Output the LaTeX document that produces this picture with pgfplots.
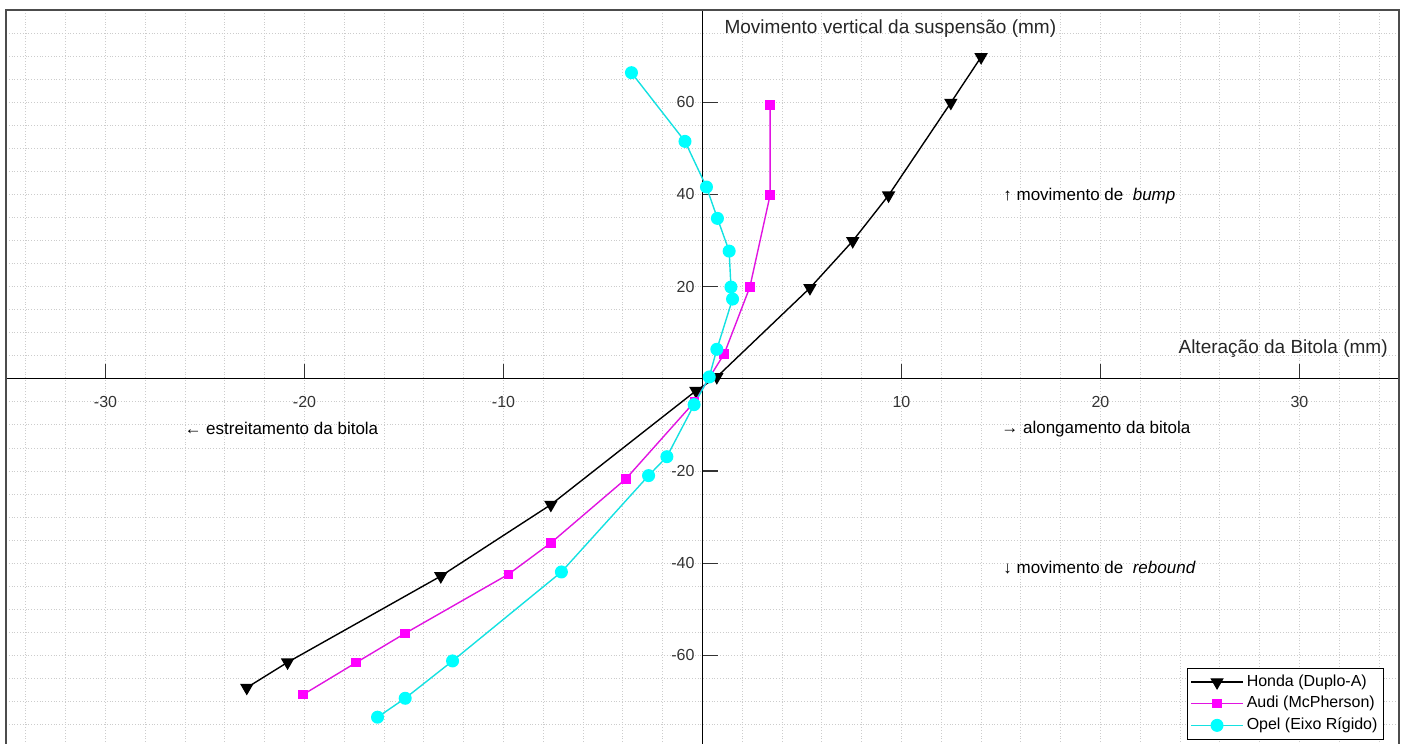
\documentclass[border=0pt]{standalone}
\usepackage{fontspec}
\setmainfont{Liberation Sans}
\usepackage{pgfplots}
\pgfplotsset{compat=1.18}

\definecolor{plotcyan}{RGB}{0,255,255}
\definecolor{plotmagenta}{RGB}{255,0,255}
\definecolor{linecyan}{RGB}{20,225,225}
\definecolor{linemagenta}{RGB}{225,20,225}

\pgfplotstableread{
x y
-22.90 -67.0
-20.85 -61.5
-13.15 -42.8
-7.62 -27.3
-0.33 -2.6
0.72 0.4
5.40 19.7
7.55 29.9
9.35 39.8
12.48 59.9
14.00 69.8
}\honda

\pgfplotstableread{
x y
-20.07 -68.5
-17.42 -61.6
-14.94 -55.2
-9.75 -42.4
-7.62 -35.6
-3.85 -21.7
-0.40 -5.0
0.35 0.3
1.09 5.4
2.38 19.9
3.40 39.9
3.40 59.4
}\audi

\pgfplotstableread{
x y
-16.33 -73.4
-14.94 -69.3
-12.56 -61.2
-7.09 -41.9
-2.71 -21.0
-1.79 -16.9
-0.42 -5.6
0.34 0.4
0.72 6.4
1.51 17.3
1.43 19.9
1.34 27.7
0.75 34.8
0.20 41.6
-0.88 51.5
-3.57 66.4
}\opel

\newcommand{\smalltxt}{\fontsize{8}{9.6}\selectfont}
\newcommand{\notetxt}{\fontsize{8.5}{10.2}\selectfont}
\newcommand{\lbl}{\fontsize{9.5}{11.4}\selectfont}

\begin{document}
\begin{tikzpicture}
\useasboundingbox (0,0) rectangle (702.5pt,-372pt);
\clip (0,0) rectangle (702.5pt,-372pt);
\begin{axis}[
  scale only axis,
  width=696.5pt, height=368.8pt,
  at={(3pt,-5pt)}, anchor=north west,
  xmin=-35, xmax=35, ymin=-80, ymax=80,
  axis lines=middle,
  axis line style={-, black, line width=0.6pt},
  clip=false,
  xtick={-30,-20,-10,10,20,30},
  ytick={-60,-40,-20,20,40,60},
  minor xtick={-34,-32,...,34},
  minor ytick={-75,-70,...,75},
  grid=both,
  major grid style={densely dotted, gray!40, line width=0.45pt},
  minor grid style={densely dotted, gray!40, line width=0.45pt},
  tick align=inside,
  major tick length=7.5pt,
  minor tick length=0pt,
  tick style={black!80, line width=0.6pt},
  /pgf/number format/assume math mode=true,
  tick label style={font=\smalltxt, text=black!80},
  xticklabel style={yshift=-5pt},
  yticklabel style={xshift=-0.5pt},
  legend style={
    at={(axis cs:34.25,-78.3)}, anchor=south east,
    draw=black, fill=white, line width=0.6pt,
    font=\smalltxt, inner sep=1.5pt, row sep=0pt,
    nodes={inner sep=1.5pt, text height=6pt, text depth=1.8pt},
  },
  legend cell align=left,
  legend image code/.code={
    \draw[mark repeat=2, mark phase=2] plot coordinates {(0pt,0pt) (13pt,0pt) (26pt,0pt)};
  },
]
% frame around the plotting area
\draw[black!70, line width=0.6pt] (rel axis cs:0,0) rectangle (rel axis cs:1,1);

\addplot[black, line width=0.7pt, mark=triangle*, mark size=3.2pt,
  mark options={rotate=180, fill=black}] table[x=x, y=y] {\honda};
\addlegendentry{Honda (Duplo-A)}
\addplot[linemagenta, line width=0.7pt, mark=square*, mark size=2pt,
  mark options={draw=plotmagenta, fill=plotmagenta}] table[x=x, y=y] {\audi};
\addlegendentry{Audi (McPherson)}
\addplot[linecyan, line width=0.7pt, mark=*, mark size=2.9pt,
  mark options={draw=plotcyan, fill=plotcyan}] table[x=x, y=y] {\opel};
\addlegendentry{Opel (Eixo Rígido)}

% axis titles
\node[anchor=west, inner sep=0pt, font=\lbl, text=black!85] at (axis cs:1.09,75.9) {Movimento vertical da suspensão (mm)};
\node[anchor=east, inner sep=0pt, font=\lbl, text=black!85] at (axis cs:34.45,6.5) {Alteração da Bitola (mm)};

% direction notes
\node[anchor=west, inner sep=0pt, font=\notetxt] at (axis cs:15.1,39.7) {↑ movimento de\ \ \textit{bump}};
\node[anchor=west, inner sep=0pt, font=\notetxt] at (axis cs:15.1,-41) {↓ movimento de\ \ \textit{rebound}};
\node[anchor=west, inner sep=0pt, font=\notetxt] at (axis cs:15.0,-10.85) {→ alongamento da bitola};
\node[anchor=west, inner sep=0pt, font=\notetxt] at (axis cs:-26.05,-10.85) {← estreitamento da bitola};
\end{axis}
\end{tikzpicture}
\end{document}
